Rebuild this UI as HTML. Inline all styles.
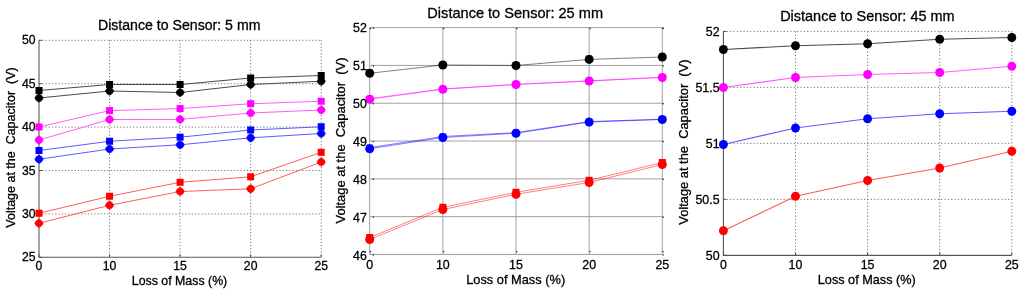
<!DOCTYPE html>
<html><head><meta charset="utf-8"><title>Voltage at the Capacitor vs Loss of Mass</title>
<style>html,body{margin:0;padding:0;background:#fff;overflow:hidden}body{width:1024px;height:293px;position:relative}svg{display:block;position:absolute;left:0;top:0;will-change:transform}#t{filter:grayscale(1)}text{font-family:"Liberation Sans", sans-serif}</style>
</head><body>
<svg id="g" width="1024" height="293" viewBox="0 0 1024 293">
<rect width="1024" height="293" fill="#fff"/>
<g>
<g fill="none" stroke="#707070" stroke-width="1" stroke-dasharray="1.15 2.1">
<line x1="39" y1="40.3" x2="321.2" y2="40.3"/>
<line x1="39" y1="83.7" x2="321.2" y2="83.7"/>
<line x1="39" y1="127.1" x2="321.2" y2="127.1"/>
<line x1="39" y1="170.5" x2="321.2" y2="170.5"/>
<line x1="39" y1="213.9" x2="321.2" y2="213.9"/>
<line x1="109.55" y1="40.3" x2="109.55" y2="257.3"/>
<line x1="180.1" y1="40.3" x2="180.1" y2="257.3"/>
<line x1="250.65" y1="40.3" x2="250.65" y2="257.3"/>
<line x1="321.2" y1="40.3" x2="321.2" y2="257.3"/>
</g>
<g fill="none" stroke="#585858" stroke-width="1.1">
<path d="M39 40.3V257.3H321.2"/>
<path d="M39 257.3v-3M109.55 257.3v-3M180.1 257.3v-3M250.65 257.3v-3M321.2 257.3v-3M39 40.3h3M39 83.7h3M39 127.1h3M39 170.5h3M39 213.9h3M39 257.3h3" stroke-width="1" stroke="#4d4d4d"/>
</g>
<polyline points="39,90.5 109.55,84.5 180.1,84.5 250.65,78 321.2,75.5" fill="none" stroke="#4a4a4a" stroke-width="1"/>
<polyline points="39,98 109.55,91 180.1,92.5 250.65,84.5 321.2,81.25" fill="none" stroke="#4a4a4a" stroke-width="1"/>
<polyline points="39,127 109.55,110.6 180.1,108.6 250.65,103.75 321.2,101.25" fill="none" stroke="#ff5cff" stroke-width="1"/>
<polyline points="39,140 109.55,119.5 180.1,119.4 250.65,113 321.2,110" fill="none" stroke="#ff5cff" stroke-width="1"/>
<polyline points="39,150.5 109.55,141.25 180.1,137.2 250.65,130 321.2,126.75" fill="none" stroke="#5c5cff" stroke-width="1"/>
<polyline points="39,159.25 109.55,149 180.1,144.8 250.65,137.8 321.2,133.5" fill="none" stroke="#5c5cff" stroke-width="1"/>
<polyline points="39,213.25 109.55,196.25 180.1,182.3 250.65,176.75 321.2,152.3" fill="none" stroke="#ff5c5c" stroke-width="1"/>
<polyline points="39,223.25 109.55,205.25 180.1,191.5 250.65,188.8 321.2,162" fill="none" stroke="#ff5c5c" stroke-width="1"/>
<g fill="#000000">
<rect x="35.5" y="87" width="7" height="7"/>
<rect x="106.05" y="81" width="7" height="7"/>
<rect x="176.6" y="81" width="7" height="7"/>
<rect x="247.15" y="74.5" width="7" height="7"/>
<rect x="317.7" y="72" width="7" height="7"/>
</g>
<g fill="#000000">
<polygon points="43.1,98 41.6,100.6 39,102.1 36.4,100.6 34.9,98 36.4,95.4 39,93.9 41.6,95.4" stroke="#000000" stroke-width="0.8" stroke-linejoin="round"/>
<polygon points="113.65,91 112.15,93.6 109.55,95.1 106.95,93.6 105.45,91 106.95,88.4 109.55,86.9 112.15,88.4" stroke="#000000" stroke-width="0.8" stroke-linejoin="round"/>
<polygon points="184.2,92.5 182.7,95.1 180.1,96.6 177.5,95.1 176,92.5 177.5,89.9 180.1,88.4 182.7,89.9" stroke="#000000" stroke-width="0.8" stroke-linejoin="round"/>
<polygon points="254.75,84.5 253.25,87.1 250.65,88.6 248.05,87.1 246.55,84.5 248.05,81.9 250.65,80.4 253.25,81.9" stroke="#000000" stroke-width="0.8" stroke-linejoin="round"/>
<polygon points="325.3,81.25 323.8,83.85 321.2,85.35 318.6,83.85 317.1,81.25 318.6,78.65 321.2,77.15 323.8,78.65" stroke="#000000" stroke-width="0.8" stroke-linejoin="round"/>
</g>
<g fill="#ff00ff">
<rect x="35.5" y="123.5" width="7" height="7"/>
<rect x="106.05" y="107.1" width="7" height="7"/>
<rect x="176.6" y="105.1" width="7" height="7"/>
<rect x="247.15" y="100.25" width="7" height="7"/>
<rect x="317.7" y="97.75" width="7" height="7"/>
</g>
<g fill="#ff00ff">
<polygon points="43.1,140 41.6,142.6 39,144.1 36.4,142.6 34.9,140 36.4,137.4 39,135.9 41.6,137.4" stroke="#ff00ff" stroke-width="0.8" stroke-linejoin="round"/>
<polygon points="113.65,119.5 112.15,122.1 109.55,123.6 106.95,122.1 105.45,119.5 106.95,116.9 109.55,115.4 112.15,116.9" stroke="#ff00ff" stroke-width="0.8" stroke-linejoin="round"/>
<polygon points="184.2,119.4 182.7,122 180.1,123.5 177.5,122 176,119.4 177.5,116.8 180.1,115.3 182.7,116.8" stroke="#ff00ff" stroke-width="0.8" stroke-linejoin="round"/>
<polygon points="254.75,113 253.25,115.6 250.65,117.1 248.05,115.6 246.55,113 248.05,110.4 250.65,108.9 253.25,110.4" stroke="#ff00ff" stroke-width="0.8" stroke-linejoin="round"/>
<polygon points="325.3,110 323.8,112.6 321.2,114.1 318.6,112.6 317.1,110 318.6,107.4 321.2,105.9 323.8,107.4" stroke="#ff00ff" stroke-width="0.8" stroke-linejoin="round"/>
</g>
<g fill="#0000ff">
<rect x="35.5" y="147" width="7" height="7"/>
<rect x="106.05" y="137.75" width="7" height="7"/>
<rect x="176.6" y="133.7" width="7" height="7"/>
<rect x="247.15" y="126.5" width="7" height="7"/>
<rect x="317.7" y="123.25" width="7" height="7"/>
</g>
<g fill="#0000ff">
<polygon points="43.1,159.25 41.6,161.85 39,163.35 36.4,161.85 34.9,159.25 36.4,156.65 39,155.15 41.6,156.65" stroke="#0000ff" stroke-width="0.8" stroke-linejoin="round"/>
<polygon points="113.65,149 112.15,151.6 109.55,153.1 106.95,151.6 105.45,149 106.95,146.4 109.55,144.9 112.15,146.4" stroke="#0000ff" stroke-width="0.8" stroke-linejoin="round"/>
<polygon points="184.2,144.8 182.7,147.4 180.1,148.9 177.5,147.4 176,144.8 177.5,142.2 180.1,140.7 182.7,142.2" stroke="#0000ff" stroke-width="0.8" stroke-linejoin="round"/>
<polygon points="254.75,137.8 253.25,140.4 250.65,141.9 248.05,140.4 246.55,137.8 248.05,135.2 250.65,133.7 253.25,135.2" stroke="#0000ff" stroke-width="0.8" stroke-linejoin="round"/>
<polygon points="325.3,133.5 323.8,136.1 321.2,137.6 318.6,136.1 317.1,133.5 318.6,130.9 321.2,129.4 323.8,130.9" stroke="#0000ff" stroke-width="0.8" stroke-linejoin="round"/>
</g>
<g fill="#ff0000">
<rect x="35.5" y="209.75" width="7" height="7"/>
<rect x="106.05" y="192.75" width="7" height="7"/>
<rect x="176.6" y="178.8" width="7" height="7"/>
<rect x="247.15" y="173.25" width="7" height="7"/>
<rect x="317.7" y="148.8" width="7" height="7"/>
</g>
<g fill="#ff0000">
<polygon points="43.1,223.25 41.6,225.85 39,227.35 36.4,225.85 34.9,223.25 36.4,220.65 39,219.15 41.6,220.65" stroke="#ff0000" stroke-width="0.8" stroke-linejoin="round"/>
<polygon points="113.65,205.25 112.15,207.85 109.55,209.35 106.95,207.85 105.45,205.25 106.95,202.65 109.55,201.15 112.15,202.65" stroke="#ff0000" stroke-width="0.8" stroke-linejoin="round"/>
<polygon points="184.2,191.5 182.7,194.1 180.1,195.6 177.5,194.1 176,191.5 177.5,188.9 180.1,187.4 182.7,188.9" stroke="#ff0000" stroke-width="0.8" stroke-linejoin="round"/>
<polygon points="254.75,188.8 253.25,191.4 250.65,192.9 248.05,191.4 246.55,188.8 248.05,186.2 250.65,184.7 253.25,186.2" stroke="#ff0000" stroke-width="0.8" stroke-linejoin="round"/>
<polygon points="325.3,162 323.8,164.6 321.2,166.1 318.6,164.6 317.1,162 318.6,159.4 321.2,157.9 323.8,159.4" stroke="#ff0000" stroke-width="0.8" stroke-linejoin="round"/>
</g>
</g>
<g>
<g fill="none" stroke="#969696" stroke-width="0.9">
<line x1="369.7" y1="27.6" x2="662.3" y2="27.6"/>
<line x1="369.7" y1="65.41" x2="662.3" y2="65.41"/>
<line x1="369.7" y1="103.22" x2="662.3" y2="103.22"/>
<line x1="369.7" y1="141.02" x2="662.3" y2="141.02"/>
<line x1="369.7" y1="178.83" x2="662.3" y2="178.83"/>
<line x1="369.7" y1="216.64" x2="662.3" y2="216.64"/>
<line x1="442.85" y1="27.6" x2="442.85" y2="254.45"/>
<line x1="516" y1="27.6" x2="516" y2="254.45"/>
<line x1="589.15" y1="27.6" x2="589.15" y2="254.45"/>
<line x1="662.3" y1="27.6" x2="662.3" y2="254.45"/>
</g>
<g fill="none" stroke="#929292" stroke-width="0.9">
<path d="M369.7 27.6V254.45H662.3"/>
<g fill="#1a1a1a" stroke="none"><rect x="369.8" y="251.05" width="1.3" height="1.2"/><rect x="369.8" y="27.9" width="1.3" height="1.2"/><rect x="442.95" y="251.05" width="1.3" height="1.2"/><rect x="442.95" y="27.9" width="1.3" height="1.2"/><rect x="516.1" y="251.05" width="1.3" height="1.2"/><rect x="516.1" y="27.9" width="1.3" height="1.2"/><rect x="589.25" y="251.05" width="1.3" height="1.2"/><rect x="589.25" y="27.9" width="1.3" height="1.2"/><rect x="662.4" y="251.05" width="1.3" height="1.2"/><rect x="662.4" y="27.9" width="1.3" height="1.2"/><rect x="372.7" y="27.5" width="1.3" height="1.2"/><rect x="662.6" y="27.5" width="1.3" height="1.2"/><rect x="372.7" y="65.31" width="1.3" height="1.2"/><rect x="662.6" y="65.31" width="1.3" height="1.2"/><rect x="372.7" y="103.12" width="1.3" height="1.2"/><rect x="662.6" y="103.12" width="1.3" height="1.2"/><rect x="372.7" y="140.92" width="1.3" height="1.2"/><rect x="662.6" y="140.92" width="1.3" height="1.2"/><rect x="372.7" y="178.73" width="1.3" height="1.2"/><rect x="662.6" y="178.73" width="1.3" height="1.2"/><rect x="372.7" y="216.54" width="1.3" height="1.2"/><rect x="662.6" y="216.54" width="1.3" height="1.2"/><rect x="372.7" y="254.35" width="1.3" height="1.2"/><rect x="662.6" y="254.35" width="1.3" height="1.2"/></g>
</g>
<polyline points="369.7,73.25 442.85,65 516,65.5 589.15,59.4 662.3,57" fill="none" stroke="#000000" stroke-width="0.5"/>
<polyline points="369.7,98.7 442.85,88.9 516,84.3 589.15,80.8 662.3,77.3" fill="none" stroke="#ff00ff" stroke-width="0.5"/>
<polyline points="369.7,99.25 442.85,89.25 516,84.5 589.15,81 662.3,77.5" fill="none" stroke="#ff00ff" stroke-width="0.5"/>
<polyline points="369.7,147.6 442.85,136.5 516,132.6 589.15,121.6 662.3,119.2" fill="none" stroke="#0000ff" stroke-width="0.5"/>
<polyline points="369.7,148.75 442.85,137.5 516,133.25 589.15,122 662.3,119.5" fill="none" stroke="#0000ff" stroke-width="0.5"/>
<polyline points="369.7,237.5 442.85,207.3 516,192.3 589.15,180.3 662.3,162.5" fill="none" stroke="#ff0000" stroke-width="0.5"/>
<polyline points="369.7,239.5 442.85,209.5 516,194.25 589.15,182.5 662.3,164.5" fill="none" stroke="#ff0000" stroke-width="0.5"/>
<g fill="#000000">
<rect x="366.7" y="69.5" width="6" height="6"/>
<rect x="439.85" y="61.5" width="6" height="6"/>
<rect x="513" y="62" width="6" height="6"/>
<rect x="586.15" y="55.5" width="6" height="6"/>
<rect x="659.3" y="53.5" width="6" height="6"/>
</g>
<g fill="#000000">
<circle cx="369.7" cy="73.25" r="4.5"/>
<circle cx="442.85" cy="65" r="4.5"/>
<circle cx="516" cy="65.5" r="4.5"/>
<circle cx="589.15" cy="59.4" r="4.5"/>
<circle cx="662.3" cy="57" r="4.5"/>
</g>
<g fill="#ff00ff">
<rect x="366.7" y="95.7" width="6" height="6"/>
<rect x="439.85" y="85.9" width="6" height="6"/>
<rect x="513" y="81.3" width="6" height="6"/>
<rect x="586.15" y="77.8" width="6" height="6"/>
<rect x="659.3" y="74.3" width="6" height="6"/>
</g>
<g fill="#ff00ff">
<circle cx="369.7" cy="99.25" r="4.5"/>
<circle cx="442.85" cy="89.25" r="4.5"/>
<circle cx="516" cy="84.5" r="4.5"/>
<circle cx="589.15" cy="81" r="4.5"/>
<circle cx="662.3" cy="77.5" r="4.5"/>
</g>
<g fill="#0000ff">
<rect x="366.7" y="144.6" width="6" height="6"/>
<rect x="439.85" y="133.5" width="6" height="6"/>
<rect x="513" y="129.6" width="6" height="6"/>
<rect x="586.15" y="118.6" width="6" height="6"/>
<rect x="659.3" y="116.2" width="6" height="6"/>
</g>
<g fill="#0000ff">
<circle cx="369.7" cy="148.75" r="4.5"/>
<circle cx="442.85" cy="137.5" r="4.5"/>
<circle cx="516" cy="133.25" r="4.5"/>
<circle cx="589.15" cy="122" r="4.5"/>
<circle cx="662.3" cy="119.5" r="4.5"/>
</g>
<g fill="#ff0000">
<rect x="366.2" y="234" width="7" height="7"/>
<rect x="439.35" y="203.8" width="7" height="7"/>
<rect x="512.5" y="188.8" width="7" height="7"/>
<rect x="585.65" y="176.8" width="7" height="7"/>
<rect x="658.8" y="159" width="7" height="7"/>
</g>
<g fill="#ff0000">
<circle cx="369.7" cy="239.5" r="4.5"/>
<circle cx="442.85" cy="209.5" r="4.5"/>
<circle cx="516" cy="194.25" r="4.5"/>
<circle cx="589.15" cy="182.5" r="4.5"/>
<circle cx="662.3" cy="164.5" r="4.5"/>
</g>
</g>
<g>
<g fill="none" stroke="#707070" stroke-width="1" stroke-dasharray="1.15 2.2">
<line x1="723.4" y1="31.4" x2="1011.8" y2="31.4"/>
<line x1="723.4" y1="87.39" x2="1011.8" y2="87.39"/>
<line x1="723.4" y1="143.38" x2="1011.8" y2="143.38"/>
<line x1="723.4" y1="199.36" x2="1011.8" y2="199.36"/>
<line x1="795.5" y1="31.4" x2="795.5" y2="255.35"/>
<line x1="867.6" y1="31.4" x2="867.6" y2="255.35"/>
<line x1="939.7" y1="31.4" x2="939.7" y2="255.35"/>
<line x1="1011.8" y1="31.4" x2="1011.8" y2="255.35"/>
</g>
<g fill="none" stroke="#585858" stroke-width="1.1">
<path d="M723.4 31.4V255.35H1011.8"/>
<path d="M723.4 255.35v-3M795.5 255.35v-3M867.6 255.35v-3M939.7 255.35v-3M1011.8 255.35v-3M723.4 31.4h3M723.4 87.39h3M723.4 143.38h3M723.4 199.36h3M723.4 255.35h3" stroke-width="1" stroke="#4d4d4d"/>
</g>
<polyline points="723.4,49.5 795.5,45.75 867.6,43.75 939.7,39.25 1011.8,37.5" fill="none" stroke="#4a4a4a" stroke-width="1.15"/>
<polyline points="723.4,87.5 795.5,77.5 867.6,74.5 939.7,72.5 1011.8,66.25" fill="none" stroke="#ff5cff" stroke-width="1.15"/>
<polyline points="723.4,144.5 795.5,128 867.6,118.75 939.7,113.75 1011.8,111.25" fill="none" stroke="#5c5cff" stroke-width="1.15"/>
<polyline points="723.4,230.75 795.5,196.25 867.6,180.5 939.7,168 1011.8,151.25" fill="none" stroke="#ff5c5c" stroke-width="1.15"/>
<g fill="#000000">
<circle cx="723.4" cy="49.5" r="4.45"/>
<circle cx="795.5" cy="45.75" r="4.45"/>
<circle cx="867.6" cy="43.75" r="4.45"/>
<circle cx="939.7" cy="39.25" r="4.45"/>
<circle cx="1011.8" cy="37.5" r="4.45"/>
</g>
<g fill="#ff00ff">
<circle cx="723.4" cy="87.5" r="4.45"/>
<circle cx="795.5" cy="77.5" r="4.45"/>
<circle cx="867.6" cy="74.5" r="4.45"/>
<circle cx="939.7" cy="72.5" r="4.45"/>
<circle cx="1011.8" cy="66.25" r="4.45"/>
</g>
<g fill="#0000ff">
<circle cx="723.4" cy="144.5" r="4.45"/>
<circle cx="795.5" cy="128" r="4.45"/>
<circle cx="867.6" cy="118.75" r="4.45"/>
<circle cx="939.7" cy="113.75" r="4.45"/>
<circle cx="1011.8" cy="111.25" r="4.45"/>
</g>
<g fill="#ff0000">
<circle cx="723.4" cy="230.75" r="4.45"/>
<circle cx="795.5" cy="196.25" r="4.45"/>
<circle cx="867.6" cy="180.5" r="4.45"/>
<circle cx="939.7" cy="168" r="4.45"/>
<circle cx="1011.8" cy="151.25" r="4.45"/>
</g>
</g>
</svg>
<svg id="t" width="1024" height="293" viewBox="0 0 1024 293" font-family='"Liberation Sans", sans-serif' fill="#000" stroke="#000" stroke-width="0.3">
<g font-size="12.2" fill="#000">
<text x="39" y="270.3" text-anchor="middle">0</text>
<text x="109.55" y="270.3" text-anchor="middle">10</text>
<text x="180.1" y="270.3" text-anchor="middle">15</text>
<text x="250.65" y="270.3" text-anchor="middle">20</text>
<text x="321.2" y="270.3" text-anchor="middle">25</text>
<text x="35.5" y="44.3" text-anchor="end">50</text>
<text x="35.5" y="87.7" text-anchor="end">45</text>
<text x="35.5" y="131.1" text-anchor="end">40</text>
<text x="35.5" y="174.5" text-anchor="end">35</text>
<text x="35.5" y="217.9" text-anchor="end">30</text>
<text x="35.5" y="261.3" text-anchor="end">25</text>
</g>
<text x="179.2" y="30" font-size="14" text-anchor="middle" textLength="162.5" lengthAdjust="spacingAndGlyphs">Distance to Sensor: 5 mm</text>
<text x="179.5" y="285" font-size="12.4" text-anchor="middle" textLength="95.5" lengthAdjust="spacingAndGlyphs">Loss of Mass (%)</text>
<text transform="translate(14.6 147.5) rotate(-90)" font-size="12.4" text-anchor="middle" textLength="160.4" lengthAdjust="spacingAndGlyphs" xml:space="preserve" style="white-space:pre">Voltage at the  Capacitor  (V)</text>
<g font-size="12.4" fill="#000">
<text x="369.7" y="268.6" text-anchor="middle">0</text>
<text x="442.85" y="268.6" text-anchor="middle">10</text>
<text x="516" y="268.6" text-anchor="middle">15</text>
<text x="589.15" y="268.6" text-anchor="middle">20</text>
<text x="662.3" y="268.6" text-anchor="middle">25</text>
<text x="366.8" y="31.7" text-anchor="end">52</text>
<text x="366.8" y="69.67" text-anchor="end">51</text>
<text x="366.8" y="107.65" text-anchor="end">50</text>
<text x="366.8" y="145.62" text-anchor="end">49</text>
<text x="366.8" y="183.6" text-anchor="end">48</text>
<text x="366.8" y="221.57" text-anchor="end">47</text>
<text x="366.8" y="259.55" text-anchor="end">46</text>
</g>
<text x="515.2" y="17.5" font-size="14.5" text-anchor="middle" textLength="175.7" lengthAdjust="spacingAndGlyphs">Distance to Sensor: 25 mm</text>
<text x="515.7" y="283.5" font-size="12.8" text-anchor="middle" textLength="99" lengthAdjust="spacingAndGlyphs">Loss of Mass (%)</text>
<text transform="translate(345 140.5) rotate(-90)" font-size="12.8" text-anchor="middle" textLength="166" lengthAdjust="spacingAndGlyphs" xml:space="preserve" style="white-space:pre">Voltage at the  Capacitor  (V)</text>
<g font-size="12.4" fill="#000">
<text x="723.4" y="268.7" text-anchor="middle">0</text>
<text x="795.5" y="268.7" text-anchor="middle">10</text>
<text x="867.6" y="268.7" text-anchor="middle">15</text>
<text x="939.7" y="268.7" text-anchor="middle">20</text>
<text x="1011.8" y="268.7" text-anchor="middle">25</text>
<text x="719.6" y="36" text-anchor="end">52</text>
<text x="719.6" y="91.99" text-anchor="end">51.5</text>
<text x="719.6" y="147.97" text-anchor="end">51</text>
<text x="719.6" y="203.96" text-anchor="end">50.5</text>
<text x="719.6" y="259.95" text-anchor="end">50</text>
</g>
<text x="867.4" y="20.5" font-size="14.5" text-anchor="middle" textLength="174.5" lengthAdjust="spacingAndGlyphs">Distance to Sensor: 45 mm</text>
<text x="866.8" y="283.7" font-size="12.7" text-anchor="middle" textLength="98" lengthAdjust="spacingAndGlyphs">Loss of Mass (%)</text>
<text transform="translate(688.2 142.1) rotate(-90)" font-size="12.7" text-anchor="middle" textLength="165.2" lengthAdjust="spacingAndGlyphs" xml:space="preserve" style="white-space:pre">Voltage at the  Capacitor  (V)</text>
</svg></body></html>
